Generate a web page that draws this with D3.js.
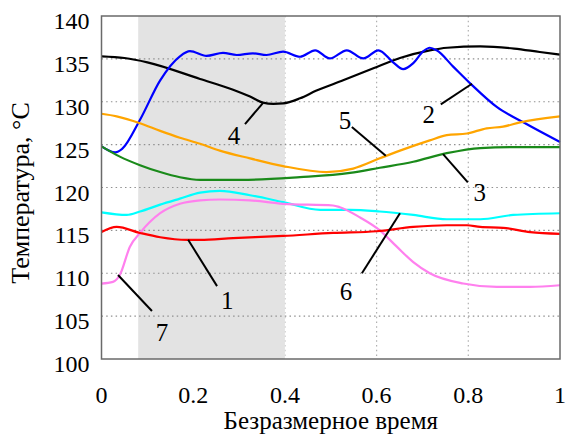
<!DOCTYPE html>
<html>
<head>
<meta charset="utf-8">
<script src="https://cdn.jsdelivr.net/npm/d3@7"></script>
<style>
  body { margin: 0; background: #fff; }
</style>
</head>
<body>
<svg id="chart"></svg>
<script>
// ---- data ----
const xTicks = [0, 0.2, 0.4, 0.6, 0.8, 1];
const xTickLabels = ["0", "0.2", "0.4", "0.6", "0.8", "1"];
const yTicks = [100, 105, 110, 115, 120, 125, 130, 135, 140];
const shadeRange = [0.08, 0.4];

// curve 1 (red)
const curve1 = [[0,114.8],[0.033,115.4],[0.084,114.7],[0.128,114.2],[0.186,113.9],[0.215,113.9],[0.287,114.1],
  [0.396,114.35],[0.505,114.7],[0.6,114.9],[0.68,115.4],[0.753,115.6],[0.797,115.6],[0.826,115.4],[0.876,115.3],
  [0.935,114.8],[1,114.6]];
// curve 2 (blue)
const curve2 = [[0,124.8],[0.03,124.1],[0.045,124.5],[0.084,127.9],[0.128,132.5],[0.171,135.3],[0.193,135.9],
  [0.229,135.35],[0.265,135.7],[0.295,135.45],[0.33,135.65],[0.36,135.45],[0.396,135.85],[0.433,135.25],
  [0.466,136.0],[0.498,135.05],[0.535,136.0],[0.571,135.05],[0.604,136.0],[0.636,134.6],[0.658,133.8],
  [0.68,134.5],[0.702,135.9],[0.716,136.3],[0.731,136.0],[0.767,134.1],[0.807,132.0],[0.862,129.4],
  [0.92,127.6],[1,125.3]];
// curve 3 (green)
const curve3 = [[0,124.8],[0.04,123.6],[0.084,122.6],[0.128,121.8],[0.171,121.2],[0.215,120.9],[0.32,120.9],
  [0.433,121.2],[0.542,121.7],[0.607,122.3],[0.68,123.0],[0.753,124.0],[0.826,124.6],[0.898,124.7],[1,124.7]];
// curve 4 (black)
const curve4 = [[0,135.3],[0.05,135.1],[0.1,134.6],[0.215,132.65],[0.287,131.4],[0.324,130.6],[0.352,129.9],
  [0.375,129.75],[0.396,129.8],[0.433,130.4],[0.469,131.3],[0.527,132.5],[0.593,133.9],[0.651,135.1],
  [0.716,136.0],[0.754,136.3],[0.826,136.45],[0.9,136.2],[0.956,135.8],[1,135.5]];
// curve 5 (orange)
const curve5 = [[0,128.6],[0.033,128.3],[0.084,127.5],[0.128,126.6],[0.171,125.8],[0.215,125.1],[0.258,124.3],
  [0.324,123.4],[0.396,122.5],[0.491,121.8],[0.549,122.2],[0.607,123.4],[0.651,124.3],[0.716,125.5],
  [0.753,126.1],[0.797,126.3],[0.84,126.9],[0.876,127.1],[0.913,127.6],[1,128.3]];
// curve 6 (cyan)
const curve6 = [[0,117.1],[0.055,116.8],[0.084,117.2],[0.128,118.0],[0.171,118.7],[0.215,119.4],[0.258,119.6],
  [0.324,119.1],[0.396,118.3],[0.477,117.4],[0.542,117.4],[0.607,117.2],[0.68,116.8],[0.753,116.3],
  [0.826,116.3],[0.898,116.8],[1,117.0]];
// curve 7 (violet)
const curve7 = [[0,108.8],[0.025,109.0],[0.04,109.8],[0.062,113.1],[0.084,114.7],[0.128,117.0],[0.171,118.1],
  [0.215,118.5],[0.258,118.6],[0.324,118.5],[0.396,118.1],[0.505,117.9],[0.52,117.7],[0.564,116.5],
  [0.607,115.0],[0.644,113.1],[0.68,111.3],[0.716,110.0],[0.789,108.8],[0.862,108.4],[0.935,108.4],[1,108.6]];

const series = [
  { name: "4", values: curve4, color: "#000000" },
  { name: "2", values: curve2, color: "#0000ff" },
  { name: "5", values: curve5, color: "#ffa500" },
  { name: "3", values: curve3, color: "#1a8a1a" },
  { name: "6", values: curve6, color: "#00ffff" },
  { name: "7", values: curve7, color: "#ff80ee" },
  { name: "1", values: curve1, color: "#ff0000" }
];

// labels with leader lines (data coords): label point, line start, line end
const annotations = [
  { text: "1", at: [0.274, 106.9], from: [0.252, 108.5], to: [0.189, 113.9] },
  { text: "2", at: [0.714, 128.6], from: [0.740, 129.7], to: [0.808, 132.1] },
  { text: "3", at: [0.825, 119.4], from: [0.799, 120.6], to: [0.745, 123.9] },
  { text: "4", at: [0.289, 126.1], from: [0.313, 127.4], to: [0.352, 129.85] },
  { text: "5", at: [0.531, 127.9], from: [0.546, 127.05], to: [0.620, 123.7] },
  { text: "6", at: [0.533, 107.9], from: [0.568, 110.0], to: [0.651, 117.0] },
  { text: "7", at: [0.132, 103.1], from: [0.110, 105.6], to: [0.036, 109.8] }
];

// ---- layout ----
const W = 568, H = 437;
const margin = { top: 16, right: 8, bottom: 78, left: 101.5 };
const width = W - margin.left - margin.right;
const height = H - margin.top - margin.bottom;
const serif = "'Liberation Serif', 'Times New Roman', 'DejaVu Serif', serif";

const svg = d3.select("#chart").attr("width", W).attr("height", H)
  .attr("font-family", serif);
const g = svg.append("g").attr("transform", `translate(${margin.left},${margin.top})`);

const x = d3.scaleLinear().domain([0, 1]).range([0, width]);
const y = d3.scaleLinear().domain([100, 140]).range([height, 0]);

// vertical grid (under the shaded band)
g.selectAll(".vgrid").data(xTicks.slice(1, -1)).join("line")
  .attr("x1", d => x(d)).attr("x2", d => x(d))
  .attr("y1", 0).attr("y2", height)
  .attr("stroke", "#b0b0b0").attr("stroke-width", 1.2)
  .attr("stroke-dasharray", "1.5,3.2");

// shaded band
g.append("rect")
  .attr("x", x(shadeRange[0])).attr("y", 0)
  .attr("width", x(shadeRange[1]) - x(shadeRange[0])).attr("height", height)
  .attr("fill", "#e3e3e3");

// horizontal grid
g.selectAll(".hgrid").data(yTicks.slice(1, -1)).join("line")
  .attr("x1", 0).attr("x2", width)
  .attr("y1", d => y(d)).attr("y2", d => y(d))
  .attr("stroke", "#909090").attr("stroke-width", 1.2)
  .attr("stroke-dasharray", "1.5,3.2");

// curves
const line = d3.line()
  .x(d => x(d[0]))
  .y(d => y(d[1]))
  .curve(d3.curveMonotoneX);

g.selectAll(".curve").data(series).join("path")
  .attr("class", "curve")
  .attr("fill", "none")
  .attr("stroke", d => d.color)
  .attr("stroke-width", 2.2)
  .attr("stroke-linejoin", "round")
  .attr("d", d => line(d.values));

// annotations
g.selectAll(".leader").data(annotations).join("line")
  .attr("x1", d => x(d.from[0])).attr("y1", d => y(d.from[1]))
  .attr("x2", d => x(d.to[0])).attr("y2", d => y(d.to[1]))
  .attr("stroke", "#000").attr("stroke-width", 2);

g.selectAll(".ann").data(annotations).join("text")
  .attr("x", d => x(d.at[0])).attr("y", d => y(d.at[1]))
  .attr("dy", "0.35em")
  .attr("text-anchor", "middle")
  .style("font-size", "25px")
  .text(d => d.text);

// frame
g.append("rect")
  .attr("width", width).attr("height", height)
  .attr("fill", "none").attr("stroke", "#6a6a6a").attr("stroke-width", 1.5);

// tick labels
g.selectAll(".ylab").data(yTicks).join("text")
  .attr("x", -12).attr("y", d => y(d) + 13)
  .attr("text-anchor", "end")
  .style("font-size", "24px")
  .text(d => d);

g.selectAll(".xlab").data(xTicks).join("text")
  .attr("x", d => x(d)).attr("y", height + 44)
  .attr("text-anchor", "middle")
  .style("font-size", "24px")
  .text((d, i) => xTickLabels[i]);

// axis titles
svg.append("text")
  .attr("x", margin.left + width / 2).attr("y", 429)
  .attr("text-anchor", "middle")
  .style("font-size", "25px")
  .text("Безразмерное время");

svg.append("text")
  .attr("transform", `translate(29,193) rotate(-90)`)
  .attr("text-anchor", "middle")
  .style("font-size", "26px")
  .text("Температура, °C");
</script>
</body>
</html>
